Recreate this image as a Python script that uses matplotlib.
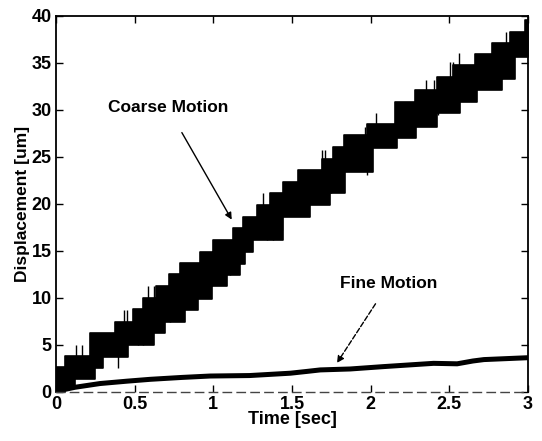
import matplotlib
matplotlib.use('Agg')
import matplotlib.pyplot as plt
import numpy as np

plt.rcParams['font.family'] = ['Liberation Sans', 'DejaVu Sans']
plt.rcParams['font.weight'] = 'bold'

# coarse motion band: upper edge staircase (step start time, level)
upper_t = [0.0, 0.057, 0.216, 0.375, 0.49, 0.555, 0.636, 0.72, 0.788, 0.915,
           1.0, 1.127, 1.19, 1.276, 1.36, 1.44, 1.54, 1.69, 1.763, 1.83,
           1.98, 2.155, 2.282, 2.42, 2.526, 2.664, 2.77, 2.886, 2.98]
upper_v = [2.6, 3.8, 6.2, 7.4, 8.75, 10.0, 11.2, 12.5, 13.7, 14.9,
           16.1, 17.4, 18.6, 19.85, 21.1, 22.3, 23.6, 24.8, 26.0, 27.3,
           28.5, 30.85, 32.1, 33.5, 34.75, 35.9, 37.06, 38.3, 39.5]
# lower edge staircase
lower_t = [0.0, 0.06, 0.12, 0.248, 0.30, 0.46, 0.62, 0.69, 0.82, 0.905,
           0.99, 1.085, 1.17, 1.2, 1.254, 1.445, 1.615, 1.74, 1.837, 2.017,
           2.166, 2.29, 2.42, 2.568, 2.674, 2.833, 2.918]
lower_v = [0.0, 0.5, 1.3, 2.5, 3.7, 4.95, 6.2, 7.4, 8.7, 9.9,
           11.2, 12.4, 13.6, 14.9, 16.1, 18.6, 19.85, 21.1, 23.4, 25.9,
           26.95, 28.2, 29.6, 30.85, 32.1, 33.3, 35.6]
# thin spikes sticking out of the band (time, bottom, top)
spike_t = [0.11, 0.126, 0.168, 0.395, 0.43, 0.45, 0.52, 0.555, 0.585, 0.62,
           0.725, 0.81, 0.86, 1.095, 1.106, 1.316, 1.34, 1.38, 1.435, 1.69,
           1.71, 1.75, 1.965, 1.975, 2.035, 2.25, 2.35, 2.40, 2.43, 2.505,
           2.525, 2.56, 2.568, 2.833, 2.86, 2.89]
spike_lo = [0.3, 3.0, 3.0, 2.5, 6.0, 6.0, 4.95, 4.95, 9.0, 9.0,
            7.4, 12.0, 12.0, 14.0, 12.4, 18.0, 16.1, 16.1, 17.2, 23.0,
            23.0, 21.1, 26.0, 23.0, 27.0, 27.3, 31.0, 31.0, 29.4, 32.0,
            32.0, 34.0, 31.4, 33.3, 36.0, 36.0]
spike_hi = [3.0, 4.95, 4.95, 5.0, 8.7, 8.7, 7.0, 7.0, 11.2, 11.2,
            9.0, 13.7, 13.7, 16.1, 14.0, 21.1, 18.0, 18.0, 19.0, 25.7,
            25.7, 23.0, 28.2, 25.0, 29.6, 29.0, 33.2, 33.2, 31.0, 35.1,
            35.1, 36.0, 33.0, 35.0, 38.3, 38.3]

# fine motion trace
fine_t = [0, 0.05, 0.12, 0.28, 0.45, 0.6, 0.8, 0.98, 1.23, 1.49, 1.6, 1.68,
          1.87, 2.08, 2.4, 2.55, 2.65, 2.72, 3.0]
fine_v = [0, 0.2, 0.45, 0.85, 1.1, 1.3, 1.5, 1.65, 1.7, 1.95, 2.15, 2.3,
          2.4, 2.65, 3.0, 2.95, 3.25, 3.4, 3.6]

fig = plt.figure(figsize=(5.42, 4.41), dpi=100)
ax = fig.add_axes([0.1033, 0.1122, 0.8708, 0.852])

# common time grid for the band
t_all = np.union1d(np.union1d(upper_t, lower_t), [3.0])
up = np.array(upper_v)[np.searchsorted(upper_t, t_all, side='right') - 1]
lo = np.array(lower_v)[np.searchsorted(lower_t, t_all, side='right') - 1]
ax.fill_between(t_all, lo, up, step='post', color='black', linewidth=1.2,
                edgecolor='black')
ax.vlines(spike_t, spike_lo, spike_hi, color='black', linewidth=1.0)

ax.plot(fine_t, fine_v, color='black', linewidth=3.6, solid_capstyle='butt')

ax.annotate('Coarse Motion', xy=(1.117, 18.3), xytext=(0.71, 30.2),
            ha='center', va='center', fontsize=12.5, fontweight='bold',
            arrowprops=dict(arrowstyle='-|>', color='black', lw=1.0,
                            shrinkA=12, shrinkB=0, mutation_scale=10))
ax.annotate('Fine Motion', xy=(1.786, 3.04), xytext=(2.117, 11.55),
            ha='center', va='center', fontsize=12.5, fontweight='bold',
            arrowprops=dict(arrowstyle='-|>', color='black', lw=1.0,
                            linestyle='--', shrinkA=9, shrinkB=0,
                            mutation_scale=10))

ax.set_xlim(0, 3)
ax.set_ylim(0, 40)
ax.set_xticks(np.arange(0, 3.01, 0.5))
ax.set_xticklabels(['0', '0.5', '1', '1.5', '2', '2.5', '3'])
ax.set_yticks(np.arange(0, 41, 5))
ax.tick_params(direction='in', length=5, width=1, top=True, right=True,
               labelsize=13, pad=3)
for lab in ax.get_xticklabels() + ax.get_yticklabels():
    lab.set_fontweight('bold')
ax.set_xlabel('Time [sec]', fontsize=13, fontweight='bold', labelpad=-1)
ax.set_ylabel('Displacement [um]', fontsize=12.5, fontweight='bold', labelpad=1)

for s in ['left', 'right', 'top']:
    ax.spines[s].set_linewidth(1.3)
ax.spines['bottom'].set_linewidth(1.0)
ax.spines['bottom'].set_linestyle((0, (6, 4)))
ax.spines['bottom'].set_color('#444444')

fig.savefig('out.png', dpi=100)
